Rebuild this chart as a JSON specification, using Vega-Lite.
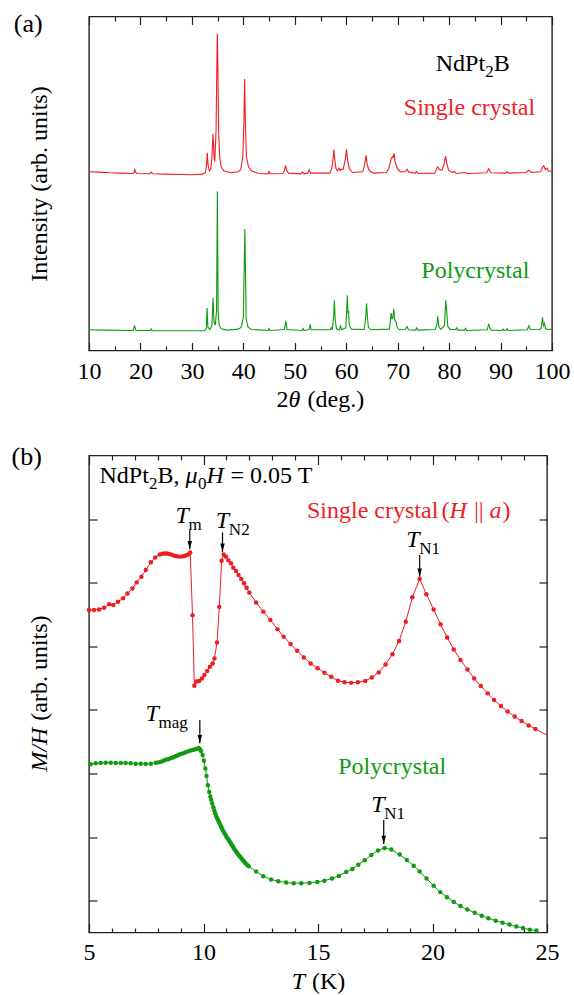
{
"$schema": "https://vega.github.io/schema/vega-lite/v6.json",
"autosize": {"type": "pad"},
"padding": {"left": 10, "top": 9.5, "right": 5, "bottom": 3},
"bounds": "flush",
"spacing": 105,
"config": {
  "view": {"stroke": "#222", "strokeWidth": 1.4},
  "font": "Liberation Serif, Times New Roman, Times, serif",
  "text": {"font": "Liberation Serif, Times New Roman, Times, serif"},
  "axis": {"domain": false, "grid": false, "labelFont": "Liberation Serif, Times New Roman, Times, serif", "titleFont": "Liberation Serif, Times New Roman, Times, serif", "labelFontSize": 24, "titleFontSize": 24, "labelColor": "#000", "titleColor": "#000", "titleFontWeight": "normal", "tickColor": "#222", "tickWidth": 1.2, "labelFlush": false, "labelOverlap": false}
},
"datasets": {
  "xrd": [
    {"s":"sc","x":10,"y":53.5},{"s":"sc","x":12,"y":53.4},{"s":"sc","x":14,"y":53.2},{"s":"sc","x":16,"y":53.1},{"s":"sc","x":18.5,"y":53.0},{"s":"sc","x":18.75,"y":53.3},{"s":"sc","x":18.9,"y":54.2},{"s":"sc","x":19.05,"y":53.4},{"s":"sc","x":19.3,"y":53.0},{"s":"sc","x":21.8,"y":52.9},{"s":"sc","x":22.1,"y":53.4},{"s":"sc","x":22.4,"y":52.9},{"s":"sc","x":25,"y":52.8},{"s":"sc","x":28,"y":52.7},{"s":"sc","x":30,"y":52.6},{"s":"sc","x":32,"y":52.8},{"s":"sc","x":32.6,"y":53.2},{"s":"sc","x":32.85,"y":55.5},{"s":"sc","x":33.0,"y":59.2},{"s":"sc","x":33.15,"y":55.5},{"s":"sc","x":33.4,"y":53.8},{"s":"sc","x":33.7,"y":54.5},{"s":"sc","x":33.9,"y":58.0},{"s":"sc","x":34.1,"y":64.9},{"s":"sc","x":34.3,"y":58.5},{"s":"sc","x":34.45,"y":56.5},{"s":"sc","x":34.7,"y":66.0},{"s":"sc","x":34.85,"y":85.0},{"s":"sc","x":34.95,"y":94.8},{"s":"sc","x":35.05,"y":85.0},{"s":"sc","x":35.2,"y":66.0},{"s":"sc","x":35.4,"y":58.0},{"s":"sc","x":35.7,"y":55.0},{"s":"sc","x":36.2,"y":53.8},{"s":"sc","x":37.5,"y":53.2},{"s":"sc","x":39.0,"y":53.5},{"s":"sc","x":39.5,"y":54.2},{"s":"sc","x":39.9,"y":58.0},{"s":"sc","x":40.1,"y":68.0},{"s":"sc","x":40.25,"y":81.3},{"s":"sc","x":40.4,"y":68.0},{"s":"sc","x":40.6,"y":58.0},{"s":"sc","x":41.0,"y":55.0},{"s":"sc","x":41.6,"y":53.8},{"s":"sc","x":43,"y":53.0},{"s":"sc","x":44.8,"y":52.9},{"s":"sc","x":45.0,"y":53.6},{"s":"sc","x":45.2,"y":52.9},{"s":"sc","x":47.7,"y":53.0},{"s":"sc","x":48.0,"y":54.0},{"s":"sc","x":48.2,"y":55.4},{"s":"sc","x":48.4,"y":54.0},{"s":"sc","x":48.8,"y":53.1},{"s":"sc","x":51.2,"y":52.9},{"s":"sc","x":51.5,"y":53.5},{"s":"sc","x":51.8,"y":52.9},{"s":"sc","x":52.5,"y":53.1},{"s":"sc","x":52.8,"y":54.1},{"s":"sc","x":53.1,"y":53.1},{"s":"sc","x":56.8,"y":53.1},{"s":"sc","x":57.2,"y":54.5},{"s":"sc","x":57.45,"y":57.5},{"s":"sc","x":57.6,"y":60.2},{"s":"sc","x":57.75,"y":57.5},{"s":"sc","x":58.0,"y":54.5},{"s":"sc","x":58.3,"y":53.8},{"s":"sc","x":58.6,"y":54.6},{"s":"sc","x":58.8,"y":53.9},{"s":"sc","x":59.0,"y":54.3},{"s":"sc","x":59.4,"y":54.2},{"s":"sc","x":59.8,"y":57.0},{"s":"sc","x":60.05,"y":60.3},{"s":"sc","x":60.25,"y":57.0},{"s":"sc","x":60.6,"y":54.5},{"s":"sc","x":61.2,"y":53.3},{"s":"sc","x":63.2,"y":53.5},{"s":"sc","x":63.6,"y":55.8},{"s":"sc","x":63.85,"y":58.4},{"s":"sc","x":64.1,"y":55.5},{"s":"sc","x":64.5,"y":53.8},{"s":"sc","x":65.3,"y":53.1},{"s":"sc","x":67.8,"y":53.3},{"s":"sc","x":68.3,"y":54.5},{"s":"sc","x":68.7,"y":57.3},{"s":"sc","x":68.95,"y":58.0},{"s":"sc","x":69.1,"y":57.8},{"s":"sc","x":69.3,"y":59.0},{"s":"sc","x":69.5,"y":56.5},{"s":"sc","x":69.9,"y":54.6},{"s":"sc","x":70.5,"y":53.5},{"s":"sc","x":71.5,"y":53.6},{"s":"sc","x":71.8,"y":54.3},{"s":"sc","x":72.2,"y":53.4},{"s":"sc","x":73.4,"y":53.1},{"s":"sc","x":73.7,"y":53.6},{"s":"sc","x":74.0,"y":53.0},{"s":"sc","x":77.2,"y":53.1},{"s":"sc","x":77.6,"y":54.4},{"s":"sc","x":77.8,"y":55.0},{"s":"sc","x":78.1,"y":54.2},{"s":"sc","x":78.6,"y":54.0},{"s":"sc","x":79.0,"y":55.6},{"s":"sc","x":79.3,"y":58.2},{"s":"sc","x":79.55,"y":56.0},{"s":"sc","x":79.9,"y":54.0},{"s":"sc","x":80.6,"y":53.3},{"s":"sc","x":81.0,"y":53.6},{"s":"sc","x":81.4,"y":53.0},{"s":"sc","x":83.0,"y":53.3},{"s":"sc","x":83.5,"y":53.0},{"s":"sc","x":87.3,"y":53.2},{"s":"sc","x":87.7,"y":54.4},{"s":"sc","x":88.1,"y":53.2},{"s":"sc","x":91.0,"y":53.1},{"s":"sc","x":91.3,"y":53.5},{"s":"sc","x":91.6,"y":53.1},{"s":"sc","x":95.0,"y":53.3},{"s":"sc","x":95.5,"y":54.0},{"s":"sc","x":96.0,"y":53.3},{"s":"sc","x":97.8,"y":53.5},{"s":"sc","x":98.2,"y":55.0},{"s":"sc","x":98.4,"y":55.3},{"s":"sc","x":98.7,"y":54.2},{"s":"sc","x":99.0,"y":54.6},{"s":"sc","x":99.4,"y":53.6},{"s":"sc","x":100,"y":53.8},
    {"s":"pc","x":10,"y":6.2},{"s":"pc","x":13,"y":6.1},{"s":"pc","x":18.6,"y":6.0},{"s":"pc","x":18.85,"y":7.5},{"s":"pc","x":19.1,"y":6.0},{"s":"pc","x":21.9,"y":6.0},{"s":"pc","x":22.1,"y":6.5},{"s":"pc","x":22.3,"y":5.9},{"s":"pc","x":32.5,"y":5.9},{"s":"pc","x":32.8,"y":6.6},{"s":"pc","x":32.95,"y":12.7},{"s":"pc","x":33.1,"y":7.0},{"s":"pc","x":33.5,"y":6.3},{"s":"pc","x":33.9,"y":7.5},{"s":"pc","x":34.1,"y":15.7},{"s":"pc","x":34.3,"y":8.5},{"s":"pc","x":34.55,"y":7.6},{"s":"pc","x":34.8,"y":12.0},{"s":"pc","x":34.95,"y":47.6},{"s":"pc","x":35.1,"y":12.0},{"s":"pc","x":35.3,"y":7.5},{"s":"pc","x":35.7,"y":6.5},{"s":"pc","x":37,"y":6.1},{"s":"pc","x":39.0,"y":6.4},{"s":"pc","x":39.6,"y":7.0},{"s":"pc","x":40.0,"y":10.0},{"s":"pc","x":40.3,"y":36.4},{"s":"pc","x":40.55,"y":9.5},{"s":"pc","x":40.9,"y":7.0},{"s":"pc","x":41.6,"y":6.3},{"s":"pc","x":44.8,"y":6.0},{"s":"pc","x":45.0,"y":6.6},{"s":"pc","x":45.2,"y":6.0},{"s":"pc","x":48.0,"y":6.3},{"s":"pc","x":48.25,"y":8.9},{"s":"pc","x":48.5,"y":6.3},{"s":"pc","x":51.4,"y":6.0},{"s":"pc","x":51.6,"y":6.6},{"s":"pc","x":51.8,"y":6.0},{"s":"pc","x":52.8,"y":6.3},{"s":"pc","x":53.0,"y":7.8},{"s":"pc","x":53.2,"y":6.2},{"s":"pc","x":56.9,"y":6.2},{"s":"pc","x":57.1,"y":6.8},{"s":"pc","x":57.3,"y":6.4},{"s":"pc","x":57.55,"y":10.0},{"s":"pc","x":57.7,"y":15.0},{"s":"pc","x":57.85,"y":9.5},{"s":"pc","x":58.1,"y":6.5},{"s":"pc","x":58.7,"y":6.2},{"s":"pc","x":58.9,"y":7.5},{"s":"pc","x":59.1,"y":6.2},{"s":"pc","x":59.9,"y":6.8},{"s":"pc","x":60.1,"y":12.0},{"s":"pc","x":60.2,"y":16.5},{"s":"pc","x":60.35,"y":11.0},{"s":"pc","x":60.45,"y":11.8},{"s":"pc","x":60.6,"y":7.5},{"s":"pc","x":61.0,"y":6.4},{"s":"pc","x":63.5,"y":6.3},{"s":"pc","x":63.8,"y":10.0},{"s":"pc","x":63.95,"y":14.1},{"s":"pc","x":64.1,"y":10.5},{"s":"pc","x":64.3,"y":7.0},{"s":"pc","x":64.7,"y":6.2},{"s":"pc","x":68.4,"y":6.4},{"s":"pc","x":68.75,"y":11.2},{"s":"pc","x":68.9,"y":9.5},{"s":"pc","x":69.05,"y":9.6},{"s":"pc","x":69.25,"y":12.5},{"s":"pc","x":69.45,"y":9.0},{"s":"pc","x":69.7,"y":8.6},{"s":"pc","x":69.9,"y":7.0},{"s":"pc","x":70.3,"y":6.2},{"s":"pc","x":71.5,"y":6.3},{"s":"pc","x":71.8,"y":7.2},{"s":"pc","x":72.1,"y":6.2},{"s":"pc","x":73.5,"y":6.1},{"s":"pc","x":73.7,"y":6.8},{"s":"pc","x":73.9,"y":6.1},{"s":"pc","x":77.3,"y":6.3},{"s":"pc","x":77.6,"y":7.5},{"s":"pc","x":77.8,"y":10.2},{"s":"pc","x":78.0,"y":7.2},{"s":"pc","x":78.4,"y":6.3},{"s":"pc","x":79.1,"y":7.5},{"s":"pc","x":79.35,"y":15.0},{"s":"pc","x":79.55,"y":11.5},{"s":"pc","x":79.75,"y":7.2},{"s":"pc","x":80.2,"y":6.3},{"s":"pc","x":81.3,"y":6.3},{"s":"pc","x":81.5,"y":6.8},{"s":"pc","x":81.7,"y":6.1},{"s":"pc","x":83.0,"y":6.1},{"s":"pc","x":83.2,"y":6.6},{"s":"pc","x":83.4,"y":6.0},{"s":"pc","x":87.4,"y":6.2},{"s":"pc","x":87.7,"y":8.0},{"s":"pc","x":87.9,"y":6.8},{"s":"pc","x":88.2,"y":6.1},{"s":"pc","x":90.3,"y":6.0},{"s":"pc","x":90.5,"y":6.4},{"s":"pc","x":90.7,"y":6.0},{"s":"pc","x":91.1,"y":6.1},{"s":"pc","x":91.3,"y":6.5},{"s":"pc","x":91.5,"y":6.0},{"s":"pc","x":95.2,"y":6.2},{"s":"pc","x":95.5,"y":7.4},{"s":"pc","x":95.8,"y":6.2},{"s":"pc","x":97.6,"y":6.3},{"s":"pc","x":97.9,"y":6.7},{"s":"pc","x":98.15,"y":9.9},{"s":"pc","x":98.35,"y":7.5},{"s":"pc","x":98.55,"y":8.2},{"s":"pc","x":98.75,"y":6.5},{"s":"pc","x":99.3,"y":6.3},{"s":"pc","x":100,"y":6.4}
  ],
  "mh": [
    {"s":"sc","x":5.00,"y":10.14,"pt":1},{"s":"sc","x":5.22,"y":10.14,"pt":1},{"s":"sc","x":5.44,"y":10.16,"pt":1},{"s":"sc","x":5.66,"y":10.21,"pt":1},{"s":"sc","x":5.88,"y":10.32,"pt":1},{"s":"sc","x":6.06,"y":10.30,"pt":1},{"s":"sc","x":6.27,"y":10.40,"pt":1},{"s":"sc","x":6.49,"y":10.51,"pt":1},{"s":"sc","x":6.68,"y":10.66,"pt":1},{"s":"sc","x":6.90,"y":10.82,"pt":1},{"s":"sc","x":7.08,"y":11.01,"pt":1},{"s":"sc","x":7.29,"y":11.19,"pt":1},{"s":"sc","x":7.48,"y":11.40,"pt":1},{"s":"sc","x":7.70,"y":11.64,"pt":1},{"s":"sc","x":7.89,"y":11.79,"pt":1},{"s":"sc","x":8.09,"y":11.89,"pt":1},{"s":"sc","x":8.20,"y":11.91,"pt":1},{"s":"sc","x":8.30,"y":11.92,"pt":1},{"s":"sc","x":8.40,"y":11.92,"pt":1},{"s":"sc","x":8.50,"y":11.90,"pt":1},{"s":"sc","x":8.61,"y":11.88,"pt":1},{"s":"sc","x":8.72,"y":11.85,"pt":1},{"s":"sc","x":8.83,"y":11.83,"pt":1},{"s":"sc","x":8.94,"y":11.82,"pt":1},{"s":"sc","x":9.05,"y":11.82,"pt":1},{"s":"sc","x":9.16,"y":11.84,"pt":1},{"s":"sc","x":9.25,"y":11.86,"pt":1},{"s":"sc","x":9.33,"y":11.89,"pt":1},{"s":"sc","x":9.42,"y":11.95,"pt":1},{"s":"sc","x":9.52,"y":9.98,"pt":1},{"s":"sc","x":9.60,"y":7.76,"pt":1},{"s":"sc","x":9.69,"y":7.89,"pt":1},{"s":"sc","x":9.81,"y":7.91,"pt":1},{"s":"sc","x":9.93,"y":7.99,"pt":1},{"s":"sc","x":10.04,"y":8.10,"pt":1},{"s":"sc","x":10.16,"y":8.22,"pt":1},{"s":"sc","x":10.28,"y":8.36,"pt":1},{"s":"sc","x":10.40,"y":8.46,"pt":1},{"s":"sc","x":10.48,"y":8.62,"pt":1},{"s":"sc","x":10.59,"y":9.12,"pt":1},{"s":"sc","x":10.69,"y":10.24,"pt":1},{"s":"sc","x":10.79,"y":11.69,"pt":1},{"s":"sc","x":10.88,"y":11.89,"pt":1},{"s":"sc","x":10.98,"y":11.82,"pt":1},{"s":"sc","x":11.08,"y":11.71,"pt":1},{"s":"sc","x":11.20,"y":11.61,"pt":1},{"s":"sc","x":11.30,"y":11.47,"pt":1},{"s":"sc","x":11.42,"y":11.37,"pt":1},{"s":"sc","x":11.53,"y":11.24,"pt":1},{"s":"sc","x":11.65,"y":11.12,"pt":1},{"s":"sc","x":11.77,"y":10.98,"pt":1},{"s":"sc","x":11.88,"y":10.84,"pt":1},{"s":"sc","x":12.00,"y":10.69,"pt":1},{"s":"sc","x":12.30,"y":10.38,"pt":1},{"s":"sc","x":12.61,"y":10.09,"pt":1},{"s":"sc","x":12.92,"y":9.83,"pt":1},{"s":"sc","x":13.23,"y":9.54,"pt":1},{"s":"sc","x":13.50,"y":9.30,"pt":1},{"s":"sc","x":13.80,"y":9.07,"pt":1},{"s":"sc","x":14.09,"y":8.86,"pt":1},{"s":"sc","x":14.38,"y":8.65,"pt":1},{"s":"sc","x":14.68,"y":8.46,"pt":1},{"s":"sc","x":14.98,"y":8.31,"pt":1},{"s":"sc","x":15.28,"y":8.17,"pt":1},{"s":"sc","x":15.58,"y":8.04,"pt":1},{"s":"sc","x":15.87,"y":7.92,"pt":1},{"s":"sc","x":16.16,"y":7.87,"pt":1},{"s":"sc","x":16.45,"y":7.85,"pt":1},{"s":"sc","x":16.74,"y":7.87,"pt":1},{"s":"sc","x":17.06,"y":7.91,"pt":1},{"s":"sc","x":17.35,"y":8.02,"pt":1},{"s":"sc","x":17.65,"y":8.18,"pt":1},{"s":"sc","x":17.95,"y":8.43,"pt":1},{"s":"sc","x":18.25,"y":8.75,"pt":1},{"s":"sc","x":18.54,"y":9.17,"pt":1},{"s":"sc","x":18.83,"y":9.77,"pt":1},{"s":"sc","x":19.12,"y":10.54,"pt":1},{"s":"sc","x":19.44,"y":11.12,"pt":1},{"s":"sc","x":19.73,"y":10.64,"pt":1},{"s":"sc","x":20.05,"y":10.16,"pt":1},{"s":"sc","x":20.35,"y":9.69,"pt":1},{"s":"sc","x":20.64,"y":9.28,"pt":1},{"s":"sc","x":20.93,"y":8.90,"pt":1},{"s":"sc","x":21.22,"y":8.57,"pt":1},{"s":"sc","x":21.53,"y":8.27,"pt":1},{"s":"sc","x":21.82,"y":7.99,"pt":1},{"s":"sc","x":22.11,"y":7.75,"pt":1},{"s":"sc","x":22.41,"y":7.52,"pt":1},{"s":"sc","x":22.69,"y":7.31,"pt":1},{"s":"sc","x":22.99,"y":7.12,"pt":1},{"s":"sc","x":23.28,"y":6.95,"pt":1},{"s":"sc","x":23.59,"y":6.79,"pt":1},{"s":"sc","x":23.89,"y":6.65,"pt":1},{"s":"sc","x":24.20,"y":6.51,"pt":1},{"s":"sc","x":24.49,"y":6.40,"pt":1},{"s":"sc","x":25.00,"y":6.21,"pt":0},
    {"s":"pc","x":5.07,"y":5.29,"pt":1},{"s":"pc","x":5.29,"y":5.32,"pt":1},{"s":"pc","x":5.51,"y":5.33,"pt":1},{"s":"pc","x":5.73,"y":5.34,"pt":1},{"s":"pc","x":5.95,"y":5.34,"pt":1},{"s":"pc","x":6.17,"y":5.33,"pt":1},{"s":"pc","x":6.39,"y":5.33,"pt":1},{"s":"pc","x":6.60,"y":5.33,"pt":1},{"s":"pc","x":6.82,"y":5.32,"pt":1},{"s":"pc","x":7.04,"y":5.31,"pt":1},{"s":"pc","x":7.26,"y":5.31,"pt":1},{"s":"pc","x":7.48,"y":5.30,"pt":1},{"s":"pc","x":7.70,"y":5.31,"pt":1},{"s":"pc","x":7.92,"y":5.34,"pt":1},{"s":"pc","x":8.03,"y":5.35,"pt":1},{"s":"pc","x":8.14,"y":5.37,"pt":1},{"s":"pc","x":8.25,"y":5.40,"pt":1},{"s":"pc","x":8.35,"y":5.43,"pt":1},{"s":"pc","x":8.46,"y":5.45,"pt":1},{"s":"pc","x":8.57,"y":5.48,"pt":1},{"s":"pc","x":8.68,"y":5.51,"pt":1},{"s":"pc","x":8.79,"y":5.54,"pt":1},{"s":"pc","x":8.90,"y":5.58,"pt":1},{"s":"pc","x":9.01,"y":5.61,"pt":1},{"s":"pc","x":9.12,"y":5.64,"pt":1},{"s":"pc","x":9.23,"y":5.67,"pt":1},{"s":"pc","x":9.34,"y":5.70,"pt":1},{"s":"pc","x":9.45,"y":5.72,"pt":1},{"s":"pc","x":9.56,"y":5.75,"pt":1},{"s":"pc","x":9.67,"y":5.77,"pt":1},{"s":"pc","x":9.78,"y":5.80,"pt":1},{"s":"pc","x":9.84,"y":5.77,"pt":1},{"s":"pc","x":9.89,"y":5.71,"pt":1},{"s":"pc","x":9.96,"y":5.58,"pt":1},{"s":"pc","x":10.02,"y":5.40,"pt":1},{"s":"pc","x":10.08,"y":5.16,"pt":1},{"s":"pc","x":10.13,"y":4.92,"pt":1},{"s":"pc","x":10.19,"y":4.63,"pt":1},{"s":"pc","x":10.25,"y":4.42,"pt":1},{"s":"pc","x":10.30,"y":4.28,"pt":1},{"s":"pc","x":10.34,"y":4.17,"pt":1},{"s":"pc","x":10.38,"y":4.06,"pt":1},{"s":"pc","x":10.43,"y":3.94,"pt":1},{"s":"pc","x":10.47,"y":3.84,"pt":1},{"s":"pc","x":10.51,"y":3.75,"pt":1},{"s":"pc","x":10.55,"y":3.67,"pt":1},{"s":"pc","x":10.59,"y":3.60,"pt":1},{"s":"pc","x":10.63,"y":3.54,"pt":1},{"s":"pc","x":10.67,"y":3.48,"pt":1},{"s":"pc","x":10.71,"y":3.42,"pt":1},{"s":"pc","x":10.76,"y":3.34,"pt":1},{"s":"pc","x":10.80,"y":3.28,"pt":1},{"s":"pc","x":10.85,"y":3.21,"pt":1},{"s":"pc","x":10.91,"y":3.13,"pt":1},{"s":"pc","x":10.96,"y":3.07,"pt":1},{"s":"pc","x":11.00,"y":3.02,"pt":1},{"s":"pc","x":11.05,"y":2.96,"pt":1},{"s":"pc","x":11.10,"y":2.91,"pt":1},{"s":"pc","x":11.15,"y":2.85,"pt":1},{"s":"pc","x":11.20,"y":2.80,"pt":1},{"s":"pc","x":11.25,"y":2.74,"pt":1},{"s":"pc","x":11.30,"y":2.68,"pt":1},{"s":"pc","x":11.35,"y":2.62,"pt":1},{"s":"pc","x":11.40,"y":2.57,"pt":1},{"s":"pc","x":11.45,"y":2.52,"pt":1},{"s":"pc","x":11.49,"y":2.48,"pt":1},{"s":"pc","x":11.55,"y":2.42,"pt":1},{"s":"pc","x":11.60,"y":2.38,"pt":1},{"s":"pc","x":11.66,"y":2.33,"pt":1},{"s":"pc","x":11.71,"y":2.28,"pt":1},{"s":"pc","x":11.77,"y":2.23,"pt":1},{"s":"pc","x":11.83,"y":2.18,"pt":1},{"s":"pc","x":11.90,"y":2.13,"pt":1},{"s":"pc","x":11.97,"y":2.08,"pt":1},{"s":"pc","x":12.30,"y":1.92,"pt":1},{"s":"pc","x":12.61,"y":1.77,"pt":1},{"s":"pc","x":12.95,"y":1.67,"pt":1},{"s":"pc","x":13.27,"y":1.61,"pt":1},{"s":"pc","x":13.61,"y":1.57,"pt":1},{"s":"pc","x":13.94,"y":1.55,"pt":1},{"s":"pc","x":14.27,"y":1.55,"pt":1},{"s":"pc","x":14.63,"y":1.56,"pt":1},{"s":"pc","x":14.97,"y":1.59,"pt":1},{"s":"pc","x":15.28,"y":1.63,"pt":1},{"s":"pc","x":15.61,"y":1.70,"pt":1},{"s":"pc","x":15.91,"y":1.78,"pt":1},{"s":"pc","x":16.23,"y":1.90,"pt":1},{"s":"pc","x":16.50,"y":2.00,"pt":1},{"s":"pc","x":16.76,"y":2.13,"pt":1},{"s":"pc","x":17.04,"y":2.27,"pt":1},{"s":"pc","x":17.33,"y":2.44,"pt":1},{"s":"pc","x":17.62,"y":2.58,"pt":1},{"s":"pc","x":17.91,"y":2.66,"pt":1},{"s":"pc","x":18.20,"y":2.61,"pt":1},{"s":"pc","x":18.57,"y":2.45,"pt":1},{"s":"pc","x":18.88,"y":2.28,"pt":1},{"s":"pc","x":19.18,"y":2.10,"pt":1},{"s":"pc","x":19.44,"y":1.92,"pt":1},{"s":"pc","x":19.74,"y":1.70,"pt":1},{"s":"pc","x":20.05,"y":1.47,"pt":1},{"s":"pc","x":20.34,"y":1.27,"pt":1},{"s":"pc","x":20.63,"y":1.11,"pt":1},{"s":"pc","x":20.93,"y":0.96,"pt":1},{"s":"pc","x":21.22,"y":0.83,"pt":1},{"s":"pc","x":21.52,"y":0.72,"pt":1},{"s":"pc","x":21.84,"y":0.62,"pt":1},{"s":"pc","x":22.15,"y":0.53,"pt":1},{"s":"pc","x":22.44,"y":0.45,"pt":1},{"s":"pc","x":22.76,"y":0.37,"pt":1},{"s":"pc","x":23.06,"y":0.31,"pt":1},{"s":"pc","x":23.36,"y":0.25,"pt":1},{"s":"pc","x":23.66,"y":0.19,"pt":1},{"s":"pc","x":23.95,"y":0.14,"pt":1},{"s":"pc","x":24.25,"y":0.09,"pt":1},{"s":"pc","x":24.54,"y":0.06,"pt":1}
  ],
  "tlabels": [
    {"x":8.78,"y":12.88,"main":"T","sub":"m"},
    {"x":10.54,"y":12.72,"main":"T","sub":"N2"},
    {"x":18.85,"y":12.12,"main":"T","sub":"N1"},
    {"x":7.47,"y":6.65,"main":"T","sub":"mag"},
    {"x":17.32,"y":3.80,"main":"T","sub":"N1"}
  ],
  "arrows": [
    {"x":9.40,"y":12.66,"y2":12.05},
    {"x":10.83,"y":12.58,"y2":11.97},
    {"x":19.44,"y":11.87,"y2":11.19},
    {"x":9.84,"y":6.68,"y2":5.95},
    {"x":17.87,"y":3.54,"y2":2.78}
  ]
},
"vconcat": [
  {
    "width": 463, "height": 334,
    "encoding": {
      "x": {"field": "x", "type": "quantitative", "scale": {"domain": [10, 100], "nice": false, "zero": false}, "axis": null},
      "y": {"field": "y", "type": "quantitative", "scale": {"domain": [0, 100], "nice": false, "zero": false}, "axis": null}
    },
    "layer": [
      {
        "data": {"name": "xrd"},
        "mark": {"type": "line", "strokeWidth": 1.1, "clip": true},
        "encoding": {
          "x": {"field": "x", "type": "quantitative", "scale": {"domain": [10, 100], "nice": false, "zero": false},
            "axis": {"orient": "bottom", "values": [10,15,20,25,30,35,40,45,50,55,60,65,70,75,80,85,90,95,100],
              "labelExpr": "datum.value % 10 === 0 ? datum.label : ''",
              "tickSize": {"condition": {"test": "datum.value % 10 === 0", "value": -8}, "value": -4.5},
              "labelPadding": 17, "title": null}},
          "y": {"field": "y", "type": "quantitative", "scale": {"domain": [0, 100], "nice": false, "zero": false},
            "axis": {"orient": "left", "ticks": false, "labels": false, "title": "Intensity (arb. units)", "titleX": -50, "titleY": 167, "titleBaseline": "middle", "titleAngle": -90, "titleAlign": "center"}},
          "color": {"field": "s", "type": "nominal", "scale": {"domain": ["sc", "pc"], "range": ["#ee1d23", "#0f9a0f"]}, "legend": null}
        }
      },
      {
        "data": {"values": [{"x": 77.4, "y": 83.7, "t": "NdPt"}]},
        "mark": {"type": "text", "align": "left", "baseline": "alphabetic", "fontSize": 24, "color": "#000"},
        "encoding": {
          "x": {"field": "x", "type": "quantitative", "scale": {"domain": [10, 100], "nice": false, "zero": false},
            "axis": {"orient": "top", "values": [10,15,20,25,30,35,40,45,50,55,60,65,70,75,80,85,90,95,100], "labels": false, "title": null,
              "tickSize": {"condition": {"test": "datum.value % 10 === 0", "value": -8}, "value": -4.5}}},
          "text": {"field": "t"}
        }
      },
      {
        "data": {"values": [{"x": 77.4, "y": 83.7, "t": "2"}]},
        "mark": {"type": "text", "align": "left", "baseline": "alphabetic", "fontSize": 17, "color": "#000", "dx": 49.5, "dy": 6},
        "encoding": {"text": {"field": "t"}}
      },
      {
        "data": {"values": [{"x": 77.4, "y": 83.7, "t": "B"}]},
        "mark": {"type": "text", "align": "left", "baseline": "alphabetic", "fontSize": 24, "color": "#000", "dx": 58},
        "encoding": {"text": {"field": "t"}}
      },
      {
        "data": {"values": [{"x": 71.2, "y": 70.5, "t": "Single crystal"}]},
        "mark": {"type": "text", "align": "left", "baseline": "alphabetic", "fontSize": 24, "color": "#ee1d23"},
        "encoding": {"text": {"field": "t"}}
      },
      {
        "data": {"values": [{"x": 74.6, "y": 21.6, "t": "Polycrystal"}]},
        "mark": {"type": "text", "align": "left", "baseline": "alphabetic", "fontSize": 24, "color": "#0f9a0f"},
        "encoding": {"text": {"field": "t"}}
      },
      {
        "data": {"values": [{"x": -4.62, "y": 95.4, "t": "(a)"}]},
        "mark": {"type": "text", "align": "left", "baseline": "alphabetic", "fontSize": 26, "color": "#000"},
        "encoding": {"text": {"field": "t"}}
      },
      {
        "data": {"values": [{"x": 55, "y": -16.8, "t": "2"}]},
        "mark": {"type": "text", "align": "left", "baseline": "alphabetic", "fontSize": 24, "color": "#000", "dx": -44},
        "encoding": {"text": {"field": "t"}}
      },
      {
        "data": {"values": [{"x": 55, "y": -16.8, "t": "θ"}]},
        "mark": {"type": "text", "align": "left", "baseline": "alphabetic", "fontSize": 24, "fontStyle": "italic", "color": "#000", "dx": -32},
        "encoding": {"text": {"field": "t"}}
      },
      {
        "data": {"values": [{"x": 55, "y": -16.8, "t": "(deg.)"}]},
        "mark": {"type": "text", "align": "left", "baseline": "alphabetic", "fontSize": 24, "color": "#000", "dx": -13},
        "encoding": {"text": {"field": "t"}}
      }
    ],
    "resolve": {"axis": {"x": "independent", "y": "independent"}}
  },
  {
    "width": 458, "height": 477,
    "encoding": {
      "x": {"field": "x", "type": "quantitative", "scale": {"domain": [5, 25], "nice": false, "zero": false}, "axis": null},
      "y": {"field": "y", "type": "quantitative", "scale": {"domain": [0, 15], "nice": false, "zero": false}, "axis": null}
    },
    "layer": [
      {
        "data": {"name": "mh"},
        "mark": {"type": "line", "strokeWidth": 1, "clip": true},
        "encoding": {
          "x": {"field": "x", "type": "quantitative", "scale": {"domain": [5, 25], "nice": false, "zero": false},
            "axis": {"orient": "bottom", "values": [5,6,7,8,9,10,11,12,13,14,15,16,17,18,19,20,21,22,23,24,25],
              "labelExpr": "datum.value % 5 === 0 ? datum.label : ''",
              "tickSize": {"condition": {"test": "datum.value % 5 === 0", "value": -9}, "value": -4.5},
              "labelPadding": 17, "title": null}},
          "y": {"field": "y", "type": "quantitative", "scale": {"domain": [0, 15], "nice": false, "zero": false},
            "axis": {"orient": "left", "values": [1,3,5,7,9,11,13], "tickSize": -8, "labels": false, "title": null}},
          "color": {"field": "s", "type": "nominal", "scale": {"domain": ["sc", "pc"], "range": ["#ee1d23", "#0f9a0f"]}, "legend": null}
        }
      },
      {
        "data": {"name": "mh"},
        "transform": [{"filter": "datum.pt == 1"}],
        "mark": {"type": "point", "shape": "circle", "filled": true, "size": 20, "opacity": 1},
        "encoding": {
          "x": {"field": "x", "type": "quantitative", "scale": {"domain": [5, 25], "nice": false, "zero": false},
            "axis": {"orient": "top", "values": [5,6,7,8,9,10,11,12,13,14,15,16,17,18,19,20,21,22,23,24,25], "labels": false, "title": null,
              "tickSize": {"condition": {"test": "datum.value % 5 === 0", "value": -9}, "value": -4.5}}},
          "y": {"field": "y", "type": "quantitative", "scale": {"domain": [0, 15], "nice": false, "zero": false},
            "axis": {"orient": "right", "values": [1,3,5,7,9,11,13], "tickSize": -8, "labels": false, "title": null}},
          "color": {"field": "s", "type": "nominal", "scale": {"domain": ["sc", "pc"], "range": ["#ee1d23", "#0f9a0f"]}, "legend": null}
        }
      },
      {
        "data": {"name": "arrows"},
        "mark": {"type": "rule", "color": "#000", "strokeWidth": 1.2},
        "encoding": {"y2": {"field": "y2"}}
      },
      {
        "data": {"name": "arrows"},
        "mark": {"type": "point", "shape": "M-0.6,-2.2L0.6,-2.2L0,0Z", "filled": true, "color": "#000", "size": 56, "opacity": 1},
        "encoding": {"y": {"field": "y2", "type": "quantitative", "scale": {"domain": [0, 15], "nice": false, "zero": false}, "axis": null}}
      },
      {
        "data": {"name": "tlabels"},
        "mark": {"type": "text", "align": "left", "baseline": "alphabetic", "fontSize": 24, "fontStyle": "italic", "color": "#000"},
        "encoding": {"text": {"field": "main"}}
      },
      {
        "data": {"name": "tlabels"},
        "mark": {"type": "text", "align": "left", "baseline": "alphabetic", "fontSize": 17, "color": "#000", "dx": 13, "dy": 7},
        "encoding": {"text": {"field": "sub"}}
      },
      {
        "data": {"values": [{"x": 5.46, "y": 14.15, "t": "NdPt"}]},
        "mark": {"type": "text", "align": "left", "baseline": "alphabetic", "fontSize": 24, "color": "#000"},
        "encoding": {"text": {"field": "t"}}
      },
      {
        "data": {"values": [{"x": 5.46, "y": 14.15, "t": "2"}]},
        "mark": {"type": "text", "align": "left", "baseline": "alphabetic", "fontSize": 17, "color": "#000", "dx": 49.5, "dy": 6},
        "encoding": {"text": {"field": "t"}}
      },
      {
        "data": {"values": [{"x": 5.46, "y": 14.15, "t": "B,"}]},
        "mark": {"type": "text", "align": "left", "baseline": "alphabetic", "fontSize": 24, "color": "#000", "dx": 58},
        "encoding": {"text": {"field": "t"}}
      },
      {
        "data": {"values": [{"x": 5.46, "y": 14.15, "t": "μ"}]},
        "mark": {"type": "text", "align": "left", "baseline": "alphabetic", "fontSize": 24, "fontStyle": "italic", "color": "#000", "dx": 86},
        "encoding": {"text": {"field": "t"}}
      },
      {
        "data": {"values": [{"x": 5.46, "y": 14.15, "t": "0"}]},
        "mark": {"type": "text", "align": "left", "baseline": "alphabetic", "fontSize": 17, "color": "#000", "dx": 98.5, "dy": 6},
        "encoding": {"text": {"field": "t"}}
      },
      {
        "data": {"values": [{"x": 5.46, "y": 14.15, "t": "H"}]},
        "mark": {"type": "text", "align": "left", "baseline": "alphabetic", "fontSize": 24, "fontStyle": "italic", "color": "#000", "dx": 107},
        "encoding": {"text": {"field": "t"}}
      },
      {
        "data": {"values": [{"x": 5.46, "y": 14.15, "t": "= 0.05 T"}]},
        "mark": {"type": "text", "align": "left", "baseline": "alphabetic", "fontSize": 24, "color": "#000", "dx": 131},
        "encoding": {"text": {"field": "t"}}
      },
      {
        "data": {"values": [{"x": 14.52, "y": 13.05, "t": "Single crystal"}]},
        "mark": {"type": "text", "align": "left", "baseline": "alphabetic", "fontSize": 24, "color": "#ee1d23"},
        "encoding": {"text": {"field": "t"}}
      },
      {
        "data": {"values": [{"x": 14.52, "y": 13.05, "t": "("}]},
        "mark": {"type": "text", "align": "left", "baseline": "alphabetic", "fontSize": 24, "color": "#ee1d23", "dx": 134.5},
        "encoding": {"text": {"field": "t"}}
      },
      {
        "data": {"values": [{"x": 14.52, "y": 13.05, "t": "H"}]},
        "mark": {"type": "text", "align": "left", "baseline": "alphabetic", "fontSize": 24, "fontStyle": "italic", "color": "#ee1d23", "dx": 142.5},
        "encoding": {"text": {"field": "t"}}
      },
      {
        "data": {"values": [{"x": 14.52, "y": 13.05, "t": "||"}]},
        "mark": {"type": "text", "align": "left", "baseline": "alphabetic", "fontSize": 24, "color": "#ee1d23", "dx": 167},
        "encoding": {"text": {"field": "t"}}
      },
      {
        "data": {"values": [{"x": 14.52, "y": 13.05, "t": "a"}]},
        "mark": {"type": "text", "align": "left", "baseline": "alphabetic", "fontSize": 24, "fontStyle": "italic", "color": "#ee1d23", "dx": 182.6},
        "encoding": {"text": {"field": "t"}}
      },
      {
        "data": {"values": [{"x": 14.52, "y": 13.05, "t": ")"}]},
        "mark": {"type": "text", "align": "left", "baseline": "alphabetic", "fontSize": 24, "color": "#ee1d23", "dx": 195.6},
        "encoding": {"text": {"field": "t"}}
      },
      {
        "data": {"values": [{"x": 15.88, "y": 4.99, "t": "Polycrystal"}]},
        "mark": {"type": "text", "align": "left", "baseline": "alphabetic", "fontSize": 24, "color": "#0f9a0f"},
        "encoding": {"text": {"field": "t"}}
      },
      {
        "data": {"values": [{"x": 1.62, "y": 14.7, "t": "(b)"}]},
        "mark": {"type": "text", "align": "left", "baseline": "alphabetic", "fontSize": 26, "color": "#000"},
        "encoding": {"text": {"field": "t"}}
      },
      {
        "data": {"values": [{"x": 15, "y": -1.79, "t": "T"}]},
        "mark": {"type": "text", "align": "left", "baseline": "alphabetic", "fontSize": 24, "fontStyle": "italic", "color": "#000", "dx": -26.3},
        "encoding": {"text": {"field": "t"}}
      },
      {
        "data": {"values": [{"x": 15, "y": -1.79, "t": "(K)"}]},
        "mark": {"type": "text", "align": "left", "baseline": "alphabetic", "fontSize": 24, "color": "#000", "dx": -6},
        "encoding": {"text": {"field": "t"}}
      },
      {
        "data": {"values": [{"x": 3.17, "y": 7.5, "t": "M/H"}]},
        "mark": {"type": "text", "align": "left", "baseline": "alphabetic", "fontSize": 24, "fontStyle": "italic", "color": "#000", "angle": 270, "dx": -77.7},
        "encoding": {"text": {"field": "t"}}
      },
      {
        "data": {"values": [{"x": 3.17, "y": 7.5, "t": "(arb. units)"}]},
        "mark": {"type": "text", "align": "left", "baseline": "alphabetic", "fontSize": 24, "color": "#000", "angle": 270, "dx": -26.7},
        "encoding": {"text": {"field": "t"}}
      }
    ],
    "resolve": {"axis": {"x": "independent", "y": "independent"}}
  }
]
}
